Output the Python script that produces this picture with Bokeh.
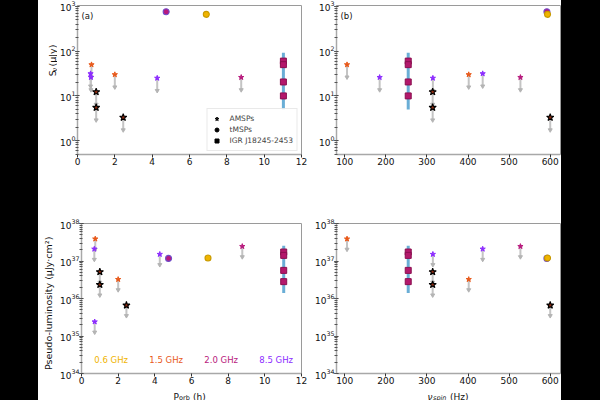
import numpy as np
from bokeh.plotting import figure
from bokeh.layouts import row, column
from bokeh.models import Spacer, Label, Legend, LegendItem, Range1d, FixedTicker
from bokeh.embed import file_html
from bokeh.resources import INLINE
from bokeh.core.properties import value

# ---------------- data ----------------
FREQ_LABELS = ["0.6 GHz", "1.5 GHz", "2.0 GHz", "8.5 GHz"]
FREQ_COLORS = ["#f0b400", "#e8591a", "#b8197d", "#8c2bff"]

# AMSPs, small coloured markers (upper limits); freq index into FREQ_LABELS
amsp_freq = [1, 3, 3, 1, 3, 2]
amsp_porb = [0.75, 0.70, 0.72, 2.00, 4.27, 8.77]
amsp_spin = [105.6, 435.7, 185.0, 401.7, 314.5, 527.5]
amsp_flux = [50.0, 31.5, 26.0, 30.0, 25.0, 26.0]
amsp_loglum_porb = [37.59, 37.32, 35.38, 36.51, 37.18, 37.39]
# panel (d): sources with a pseudo-luminosity and a spin
amsp_d_freq = [1, 3, 1, 3, 2]
amsp_d_spin = [105.6, 435.7, 401.7, 314.5, 527.5]
amsp_d_loglum = [37.59, 37.32, 36.51, 37.18, 37.39]

# AMSPs, dark stars (upper limits)
dstar_porb = [1.0, 1.0, 2.45]
dstar_spin = [314.0, 314.0, 600.0]
dstar_flux = [12.3, 5.5, 3.3]
dstar_loglum = [36.71, 36.37, 35.82]

# tMSPs (circles)
tmsp_freq = [2, 0]
tmsp_porb = [4.75, 6.90]
tmsp_spin = [592.0, 593.5]
tmsp_flux = [760.0, 665.0]
tmsp_loglum = [37.07, 37.08]

# IGR J18245-2453 (squares + range bar)
igr_porb = 11.03
igr_spin = 254.5
igr_flux = [60.0, 50.0, 20.5, 10.0]
igr_flux_range = [5.0, 92.0]
igr_loglum = [37.24, 37.15, 36.75, 36.45]
igr_loglum_range = [36.15, 37.41]

PORB_TICKS = [0, 2, 4, 6, 8, 10, 12]
SPIN_TICKS = [100, 200, 300, 400, 500, 600]

FONT = "DejaVu Sans"
ARROW_DEX = 0.28
IGR_SQ = "#b3186b"
IGR_BAR = "#6aaed6"


def base_fig(width, height, xr, yr, mbl, mbr, mbt, mbb, ticks):
    p = figure(width=width, height=height, x_range=Range1d(*xr), y_range=Range1d(*yr),
               y_axis_type="log", output_backend="svg", toolbar_location=None,
               min_border_left=mbl, min_border_right=mbr, min_border_top=mbt,
               min_border_bottom=mbb, background_fill_color="white",
               border_fill_color="white")
    p.grid.visible = False
    p.outline_line_color = "#9a9a9a"
    p.outline_line_width = 1
    p.xaxis.ticker = FixedTicker(ticks=ticks)
    for ax in (p.xaxis, p.yaxis):
        ax.axis_line_color = "#a8a8a8"
        ax.axis_line_width = 1.5
        ax.major_tick_line_color = "#333333"
        ax.major_label_text_font = FONT
        ax.major_label_text_font_size = "9px"
        ax.major_label_text_color = "#111111"
        ax.major_label_standoff = 0
    p.xaxis.minor_tick_line_color = None
    p.xaxis.major_tick_in = 0
    p.xaxis.major_tick_out = 3
    p.yaxis.major_tick_in = 2
    p.yaxis.major_tick_out = 2
    p.yaxis.minor_tick_in = 1
    p.yaxis.minor_tick_out = 2
    p.yaxis.minor_tick_line_color = "#555555"
    return p


def strip(width, height):
    s = figure(width=width, height=height, x_range=Range1d(0, width),
               y_range=Range1d(0, height), output_backend="svg", toolbar_location=None,
               min_border=0, x_axis_location=None, y_axis_location=None,
               background_fill_color="white", border_fill_color="white")
    s.grid.visible = False
    s.outline_line_color = None
    return s


def upper_limits(p, xs, ys):
    xs = np.asarray(xs, float)
    ys = np.asarray(ys, float)
    ye = ys * 10 ** (-ARROW_DEX)
    p.segment(x0=xs, y0=ys, x1=xs, y1=ye, line_color="#c4c4c4", line_width=2)
    p.scatter(x=xs, y=ye, marker="inverted_triangle", size=4, fill_color="#b4b4b4",
              line_color="#b4b4b4")


def colored_amsps(p, xs, ys, fidx):
    upper_limits(p, xs, ys)
    cols = [FREQ_COLORS[i] for i in fidx]
    p.scatter(x=xs, y=ys, marker="star", size=5.5, fill_color=cols, line_color=cols)


def dark_stars(p, xs, ys):
    upper_limits(p, xs, ys)
    p.scatter(x=xs, y=ys, marker="star", size=7.5, fill_color="#8b2a10",
              line_color="black", line_width=1.1)


def tmsps(p, xs, ys):
    cols = [FREQ_COLORS[i] for i in tmsp_freq]
    edges = ["#6f4cc9" if i == 2 else "#c89a00" for i in tmsp_freq]
    p.scatter(x=xs, y=ys, marker="circle", size=6, fill_color=cols, line_color=edges,
              line_width=1.1)


def igr(p, x, ys, rng):
    p.segment(x0=[x], y0=[rng[0]], x1=[x], y1=[rng[1]], line_color=IGR_BAR, line_width=3)
    p.scatter(x=[x] * len(ys), y=ys, marker="square", size=6, fill_color=IGR_SQ,
              line_color="#8a1050")


def lbl(p, text, x, y, size="9px", angle=0, align="left", baseline="alphabetic",
        style="normal", color="#111111", units="data"):
    p.add_layout(Label(x=x, y=y, x_units=units, y_units=units, text=text,
                       angle=angle, text_align=align, text_baseline=baseline,
                       text_font=FONT, text_font_size=size,
                       text_font_style=style, text_color=color))


# ---------------- layout numbers ----------------
YS = 19            # y-title strip width
LW, RW = 251, 253  # panel widths
TH, BH, XS = 200, 186, 14

lum_porb = [10 ** v for v in amsp_loglum_porb]
lum_d = [10 ** v for v in amsp_d_loglum]
lum_dstar = [10 ** v for v in dstar_loglum]
lum_tmsp = [10 ** v for v in tmsp_loglum]
lum_igr = [10 ** v for v in igr_loglum]
lum_igr_rng = [10 ** v for v in igr_loglum_range]

# (a)
pa = base_fig(LW, TH, (0, 12), (0.49, 1050), 20, 7, 5, 46, PORB_TICKS)
colored_amsps(pa, amsp_porb, amsp_flux, amsp_freq)
dark_stars(pa, dstar_porb, dstar_flux)
tmsps(pa, tmsp_porb, tmsp_flux)
igr(pa, igr_porb, igr_flux, igr_flux_range)
r1 = pa.scatter(x=[np.nan], y=[np.nan], marker="star", size=6, color="black")
r2 = pa.scatter(x=[np.nan], y=[np.nan], marker="circle", size=5, color="black")
r3 = pa.scatter(x=[np.nan], y=[np.nan], marker="square", size=5, color="black")
leg = Legend(items=[LegendItem(label="AMSPs", renderers=[r1]),
                    LegendItem(label="tMSPs", renderers=[r2]),
                    LegendItem(label="IGR J18245-2453", renderers=[r3])],
             location="bottom_right")
leg.margin = 3
leg.padding = 4
leg.spacing = 0
leg.glyph_width = 10
leg.glyph_height = 11
leg.label_height = 11
leg.label_standoff = 8
leg.label_text_font = FONT
leg.label_text_font_size = "7.5px"
leg.border_line_color = "#d4d4d4"
leg.background_fill_alpha = 0.85
pa.add_layout(leg)
lbl(pa, "(a)", 4, 144, size="8.5px", baseline="top", units="screen")

# (b)
pb = base_fig(RW, TH, (80, 625), (0.49, 1050), 28, 1, 5, 46, SPIN_TICKS)
colored_amsps(pb, amsp_spin, amsp_flux, amsp_freq)
dark_stars(pb, dstar_spin, dstar_flux)
tmsps(pb, tmsp_spin, tmsp_flux)
igr(pb, igr_spin, igr_flux, igr_flux_range)
lbl(pb, "(b)", 4, 144, size="8.5px", baseline="top", units="screen")

# (c)
pc = base_fig(LW, BH, (0, 12), (1e34, 1e38), 20, 7, 23, 13, PORB_TICKS)
colored_amsps(pc, amsp_porb, lum_porb, amsp_freq)
dark_stars(pc, dstar_porb, lum_dstar)
tmsps(pc, tmsp_porb, lum_tmsp)
igr(pc, igr_porb, lum_igr, lum_igr_rng)
pc.text(x=[1.62, 4.62, 7.62, 10.62], y=[10 ** 34.37] * 4, text=FREQ_LABELS,
        text_color=FREQ_COLORS, text_align="center", text_baseline="middle",
        text_font=value(FONT), text_font_size="8.5px")

# (d)
pd_ = base_fig(RW, BH, (80, 625), (1e34, 1e38), 28, 1, 23, 13, SPIN_TICKS)
colored_amsps(pd_, amsp_d_spin, lum_d, amsp_d_freq)
dark_stars(pd_, dstar_spin, lum_dstar)
tmsps(pd_, tmsp_spin, lum_tmsp)
igr(pd_, igr_spin, lum_igr, lum_igr_rng)

# axis-title strips
R = np.pi / 2
ya = strip(YS, TH)
lbl(ya, "S", 14, 105, size="9.5px", angle=R)
lbl(ya, "ν", 16.3, 111, size="7px", angle=R)
lbl(ya, "(μJy)", 14, 118.2, size="9.5px", angle=R)

yc = strip(YS, BH)
lbl(yc, "Pseudo-luminosity (μJy·cm²)", 10, 87, size="9.5px", angle=R, align="center")

xs_ = strip(YS + LW + RW, XS)
lbl(xs_, "P", 135, 4)
lbl(xs_, "orb", 140.6, 2.2, size="6.5px")
lbl(xs_, "(h)", 154.5, 4)
lbl(xs_, "ν", 389, 4, style="italic")
lbl(xs_, "spin", 394.5, 2.2, size="6.5px", style="italic")
lbl(xs_, "(Hz)", 411.5, 4)

grid = column(row(ya, pa, pb), row(yc, pc, pd_), xs_)
left = Spacer(width=38, height=400, styles={"background-color": "black"})
right = Spacer(width=39, height=400, styles={"background-color": "black"})
layout = row(left, grid, right)

open("out.html", "w").write(file_html(layout, INLINE))
